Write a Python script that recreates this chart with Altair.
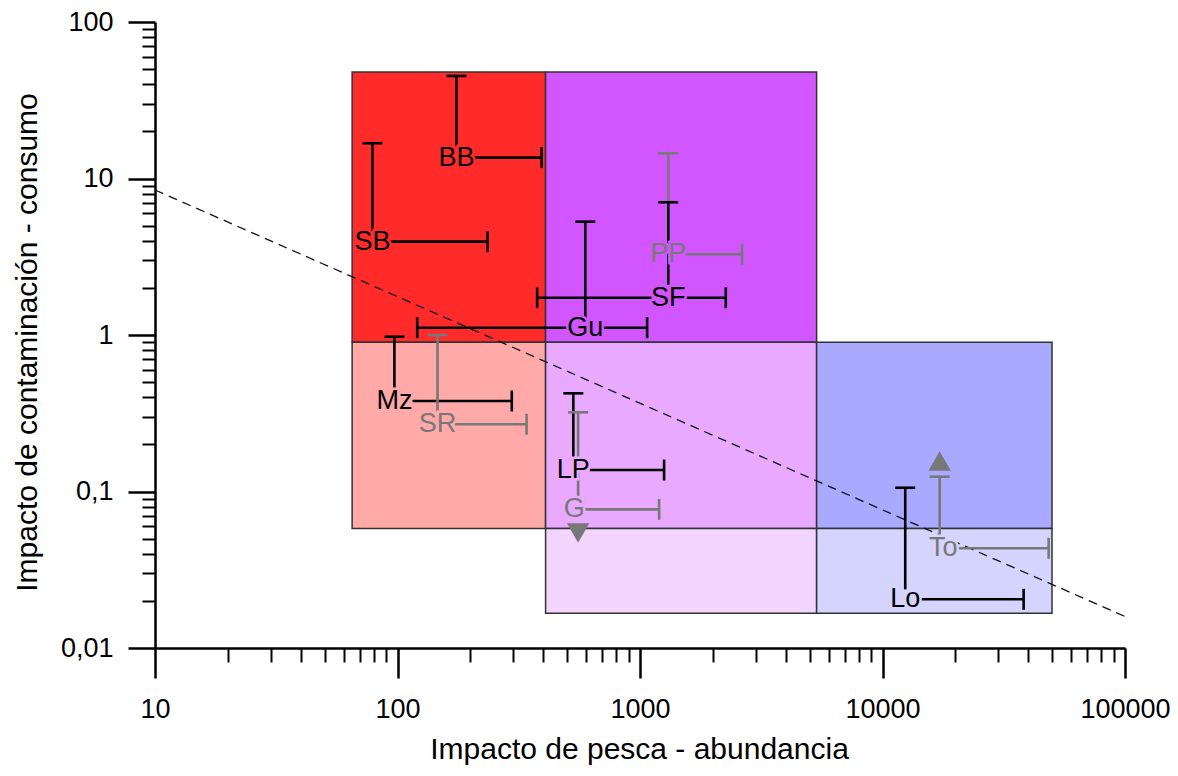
import altair as alt
import pandas as pd

# ---------------- data ----------------
# coloured quadrants (x: fishing impact, y: contamination impact)
box_x0 = [65, 408, 65, 408, 5350, 408, 5350]
box_x1 = [408, 5350, 408, 5350, 50000, 5350, 50000]
box_y0 = [0.9, 0.9, 0.058, 0.058, 0.058, 0.0167, 0.0167]
box_y1 = [48, 48, 0.9, 0.9, 0.9, 0.058, 0.058]
box_colors = ["#FF2A2A", "#D256FF", "#FFA9A9", "#E8A9FF", "#A9A9FF", "#F2D4FF", "#D4D4FF"]

# dashed reference line
trend_x = [10, 100000]
trend_y = [8.44, 0.0159]

# species
names = ["BB", "SB", "Gu", "SF", "PP", "Mz", "SR", "LP", "G", "Lo", "To"]
is_grey = [False, False, False, False, True, False, True, False, True, False, True]
pt_x = [175, 78.8, 595, 1308, 1308, 97.1, 146.2, 531, 555.6, 12410, 17210]
pt_y = [13.6, 3.95, 1.113, 1.731, 3.28, 0.3788, 0.2688, 0.1372, 0.0769, 0.02047, 0.04337]
label_x = [175, 78.8, 595, 1308, 1308, 97.1, 146.2, 531, 536, 12410, 17790]
# upper ends of the bars
x_hi = [392.6, 235.2, 1070, 2258, 2636, 296, 340.6, 1257, 1199, 38190, 48430]
y_hi = [45.2, 16.8, 5.30, 7.05, 14.5, 0.975, 1.0, 0.424, 0.3206, 0.1057, 0.1243]
# lower x ends (only where drawn)
x_lo = [None, None, 120.6, 376.6, None, None, None, None, None, None, None]
# where the bars leave the labels
gap_right = [206.5, 93.0, 696, 1540, 1545, 115.4, 172.4, 621, 588.3, 14235, 20030]
gap_left = [None, None, 499, 1115, None, None, None, None, None, None, None]
gap_top = [16.1, 4.64, 1.278, 2.087, 3.89, 0.4452, 0.3235, 0.163, 0.0926, 0.0237, 0.0507]
# open-ended markers
arrow_x = [555.6, 17210]
arrow_y = [0.0543, 0.1566]
arrow_shape = ["triangle-down", "triangle-up"]

# axis ticks
x_major = [10, 100, 1000, 10000, 100000]
x_major_labels = ["10", "100", "1000", "10000", "100000"]
y_major = [0.01, 0.1, 1, 10, 100]
y_major_labels = ["0,01", "0,1", "1", "10", "100"]
x_minor = [m * d for d in [10, 100, 1000, 10000] for m in range(2, 10)]
y_minor = [round(m * d, 4) for d in [0.01, 0.1, 1, 10] for m in range(2, 10)]

BLACK = "#000000"
GREY = "#787878"
FONT = "Liberation Sans"

# ---------------- tables ----------------
boxes = pd.DataFrame({"x0": box_x0, "x1": box_x1, "y0": box_y0, "y1": box_y1, "c": box_colors})
trend = pd.DataFrame({"x": trend_x, "y": trend_y})


def region_color(x, y):
    for a, b, c, d, col in zip(box_x0, box_x1, box_y0, box_y1, box_colors):
        if a <= x < b and c <= y < d:
            return col
    return "#FFFFFF"


order = sorted(range(len(names)), key=lambda i: 0 if is_grey[i] else 1)

hseg, vseg, hcap, vcap, labels = [], [], [], [], []
for i in order:
    col = GREY if is_grey[i] else BLACK
    hseg.append({"y": pt_y[i], "xa": gap_right[i], "xb": x_hi[i], "c": col})
    hcap.append({"x": x_hi[i], "y": pt_y[i], "c": col})
    if x_lo[i] is not None:
        hseg.append({"y": pt_y[i], "xa": x_lo[i], "xb": gap_left[i], "c": col})
        hcap.append({"x": x_lo[i], "y": pt_y[i], "c": col})
    vseg.append({"x": pt_x[i], "ya": gap_top[i], "yb": y_hi[i], "c": col})
    vcap.append({"x": pt_x[i], "y": y_hi[i], "c": col})
    labels.append({"x": label_x[i], "y": pt_y[i], "t": names[i], "c": col,
                   "bg": region_color(label_x[i], pt_y[i])})

hseg = pd.DataFrame(hseg)
vseg = pd.DataFrame(vseg)
hcap = pd.DataFrame(hcap)
vcap = pd.DataFrame(vcap)
labels = pd.DataFrame(labels)
arrows = pd.DataFrame({"x": arrow_x, "y": arrow_y, "s": arrow_shape})

# ---------------- scales & axes ----------------
xs = alt.Scale(type="log", domain=[10, 100000], nice=False)
ys = alt.Scale(type="log", domain=[0.01, 100], nice=False)


def label_expr(vals, labs):
    e = "''"
    for v, l in reversed(list(zip(vals, labs))):
        e = f"datum.value == {v} ? '{l}' : ({e})"
    return e


x_axis_major = alt.Axis(
    orient="bottom", values=x_major, labelExpr=label_expr(x_major, x_major_labels),
    grid=False, domainColor=BLACK, domainWidth=2.5, tickColor=BLACK, tickWidth=2.5,
    tickSize=30, labelFont=FONT, labelFontSize=27, labelColor=BLACK, labelPadding=18,
    labelFlush=False, labelOverlap=False, title="Impacto de pesca - abundancia",
    titleFont=FONT, titleFontSize=30, titleFontWeight="normal", titleColor=BLACK,
    titleX=484, titleY=110, titleAlign="center", titleBaseline="alphabetic",
)
y_axis_major = alt.Axis(
    orient="left", values=y_major, labelExpr=label_expr(y_major, y_major_labels),
    grid=False, domainColor=BLACK, domainWidth=2.5, tickColor=BLACK, tickWidth=2.5,
    tickSize=27, labelFont=FONT, labelFontSize=27, labelColor=BLACK, labelPadding=15,
    labelOverlap=False, labelFlush=False, title="Impacto de contaminación - consumo",
    titleFont=FONT, titleFontSize=30, titleFontWeight="normal", titleColor=BLACK,
    titleAngle=270, titleX=-119, titleY=320, titleAlign="center", titleBaseline="alphabetic",
)
x_axis_minor = alt.Axis(orient="bottom", values=x_minor, labels=False, domain=False,
                        grid=False, title=None, tickSize=14, tickWidth=2, tickColor=BLACK, offset=0)
y_axis_minor = alt.Axis(orient="left", values=y_minor, labels=False, domain=False,
                        grid=False, title=None, tickSize=13, tickWidth=2, tickColor=BLACK, offset=0)

# ---------------- layers ----------------
rects = alt.Chart(boxes).mark_rect(stroke="#333333", strokeWidth=1.5).encode(
    x=alt.X("x0:Q", scale=xs, axis=x_axis_major),
    x2="x1:Q",
    y=alt.Y("y0:Q", scale=ys, axis=y_axis_major),
    y2="y1:Q",
    fill=alt.Fill("c:N", scale=None),
)

line = alt.Chart(trend).mark_line(color="#111111", strokeWidth=1.3, strokeDash=[9, 6]).encode(
    x=alt.X("x:Q", scale=xs, axis=x_axis_minor),
    y=alt.Y("y:Q", scale=ys, axis=y_axis_minor),
)

hbars = alt.Chart(hseg).mark_rule(strokeWidth=2.6).encode(
    x=alt.X("xa:Q", scale=xs, axis=None), x2="xb:Q",
    y=alt.Y("y:Q", scale=ys, axis=None),
    color=alt.Color("c:N", scale=None),
)
vbars = alt.Chart(vseg).mark_rule(strokeWidth=2.6).encode(
    x=alt.X("x:Q", scale=xs, axis=None),
    y=alt.Y("ya:Q", scale=ys, axis=None), y2="yb:Q",
    color=alt.Color("c:N", scale=None),
)
hcaps = alt.Chart(hcap).mark_point(shape="M0,-1L0,1", size=441, strokeWidth=2.6,
                                   filled=False, opacity=1).encode(
    x=alt.X("x:Q", scale=xs, axis=None),
    y=alt.Y("y:Q", scale=ys, axis=None),
    stroke=alt.Stroke("c:N", scale=None),
)
vcaps = alt.Chart(vcap).mark_point(shape="M-1,0L1,0", size=400, strokeWidth=2.6,
                                   filled=False, opacity=1).encode(
    x=alt.X("x:Q", scale=xs, axis=None),
    y=alt.Y("y:Q", scale=ys, axis=None),
    stroke=alt.Stroke("c:N", scale=None),
)
arrow_marks = alt.Chart(arrows).mark_point(filled=True, size=500, opacity=1, color=GREY).encode(
    x=alt.X("x:Q", scale=xs, axis=None),
    y=alt.Y("y:Q", scale=ys, axis=None),
    shape=alt.Shape("s:N", scale=None),
)
halo = alt.Chart(labels).mark_text(font=FONT, fontSize=27, align="center", baseline="middle",
                                   strokeWidth=5).encode(
    x=alt.X("x:Q", scale=xs, axis=None),
    y=alt.Y("y:Q", scale=ys, axis=None),
    text="t:N",
    fill=alt.Fill("bg:N", scale=None),
    stroke=alt.Stroke("bg:N", scale=None),
)
texts = alt.Chart(labels).mark_text(font=FONT, fontSize=27, align="center", baseline="middle").encode(
    x=alt.X("x:Q", scale=xs, axis=None),
    y=alt.Y("y:Q", scale=ys, axis=None),
    text="t:N",
    fill=alt.Fill("c:N", scale=None),
)

chart = alt.layer(
    rects, line, hbars, vbars, hcaps, vcaps, arrow_marks, halo, texts
).resolve_axis(x="independent", y="independent").properties(
    width=970, height=626,
    autosize=alt.AutoSizeParams(type="none"),
    padding={"left": 147, "top": 14, "right": 45, "bottom": 118},
    background="white",
).configure_view(stroke=None)

chart.save("out.html", embed_options={"renderer": "svg", "actions": False})
